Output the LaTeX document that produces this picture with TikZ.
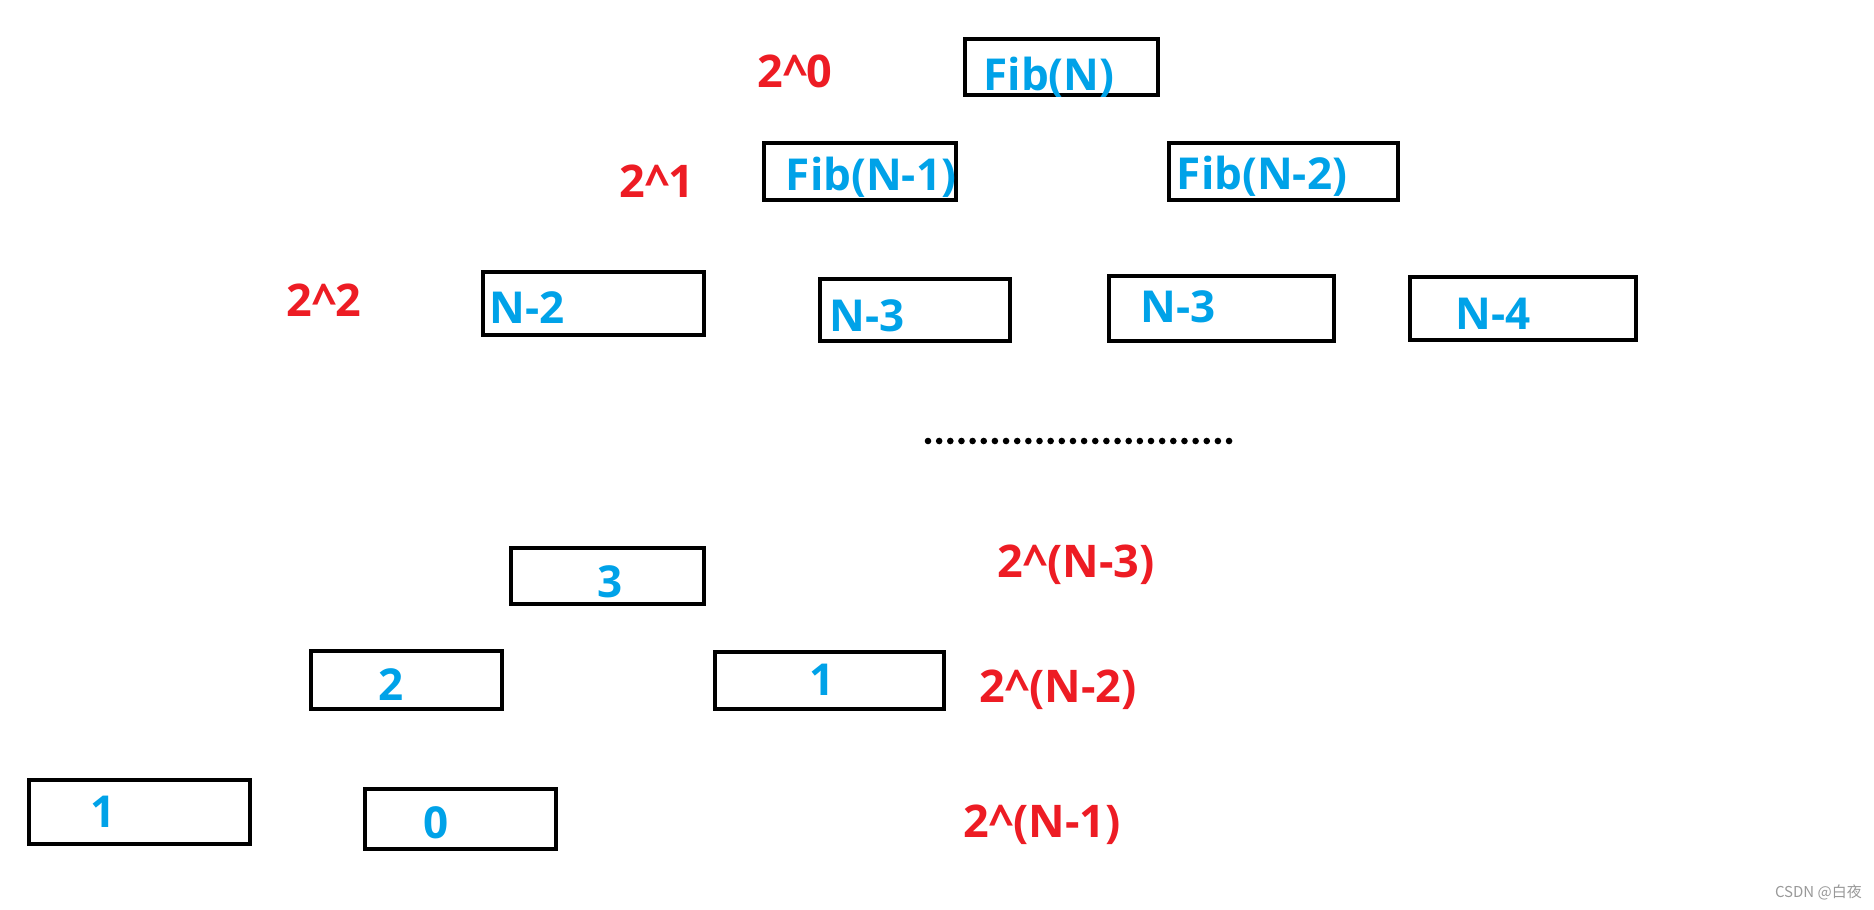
\documentclass[tikz,border=0pt]{standalone}
\usepackage{fontspec}
\setmainfont{Open Sans}
\newfontfamily\cjkfont{Noto Sans CJK SC}
\definecolor{paintblue}{HTML}{00A2E8}
\definecolor{paintred}{HTML}{ED1C24}
\definecolor{wmgray}{HTML}{999999}
\tikzset{
  boxline/.style={draw=black, line width=4pt},
  bluetext/.style={text=paintblue, font=\fontsize{44}{44}\selectfont\bfseries, inner sep=0pt, anchor=base},
  redtext/.style={text=paintred, font=\fontsize{45}{45}\selectfont\bfseries, inner sep=0pt, anchor=base},
  dotmark/.style={fill=black},
}
\begin{document}
\begin{tikzpicture}[x=1pt,y=-1pt]
\useasboundingbox (0,0) rectangle (1874,910);
% boxes
\draw[boxline] (965,39) rectangle (1158,95);
\draw[boxline] (764,143) rectangle (956,200);
\draw[boxline] (1169,143) rectangle (1398,200);
\draw[boxline] (483,272) rectangle (704,335);
\draw[boxline] (820,279) rectangle (1010,341);
\draw[boxline] (1109,276) rectangle (1334,341);
\draw[boxline] (1410,277) rectangle (1636,340);
\draw[boxline] (511,548) rectangle (704,604);
\draw[boxline] (311,651) rectangle (502,709);
\draw[boxline] (715,652) rectangle (944,709);
\draw[boxline] (29,780) rectangle (250,844);
\draw[boxline] (365,789) rectangle (556,849);
% blue labels
\node[bluetext] (t0) at (1049,90) {Fib(N)};
\node[bluetext] (t1) at (871,190) {Fib(N-1)};
\node[bluetext] (t2) at (1262,189) {Fib(N-2)};
\node[bluetext] (t3) at (527,323) {N-2};
\node[bluetext] (t4) at (867,331) {N-3};
\node[bluetext] (t5) at (1178,322) {N-3};
\node[bluetext] (t6) at (1493,329) {N-4};
\node[bluetext] (t7) at (610,597) {3};
\node[bluetext] (t8) at (391,700) {2};
\node[bluetext] (t9) at (822,695) {1};
\node[bluetext] (t10) at (103,827) {1};
\node[bluetext] (t11) at (436,838) {0};
% red labels
\node[redtext] (r0) at (795,87) {2\^{}0};
\node[redtext] (r1) at (657,197) {2\^{}1};
\node[redtext] (r2) at (324,316) {2\^{}2};
\node[redtext] (r3) at (1076,577) {2\^{}(N-3)};
\node[redtext] (r4) at (1058,702) {2\^{}(N-2)};
\node[redtext] (r5) at (1042,837) {2\^{}(N-1)};
% dots
\foreach \i in {0,...,27} {
  \fill[dotmark] ({928+11.15*\i},441) circle (3.3);
}
% watermark
\node[text=wmgray, font=\fontsize{15}{15}\selectfont\cjkfont, inner sep=0pt, anchor=base east] (wm) at (1862,897) {CSDN @白夜};
\end{tikzpicture}
\end{document}
